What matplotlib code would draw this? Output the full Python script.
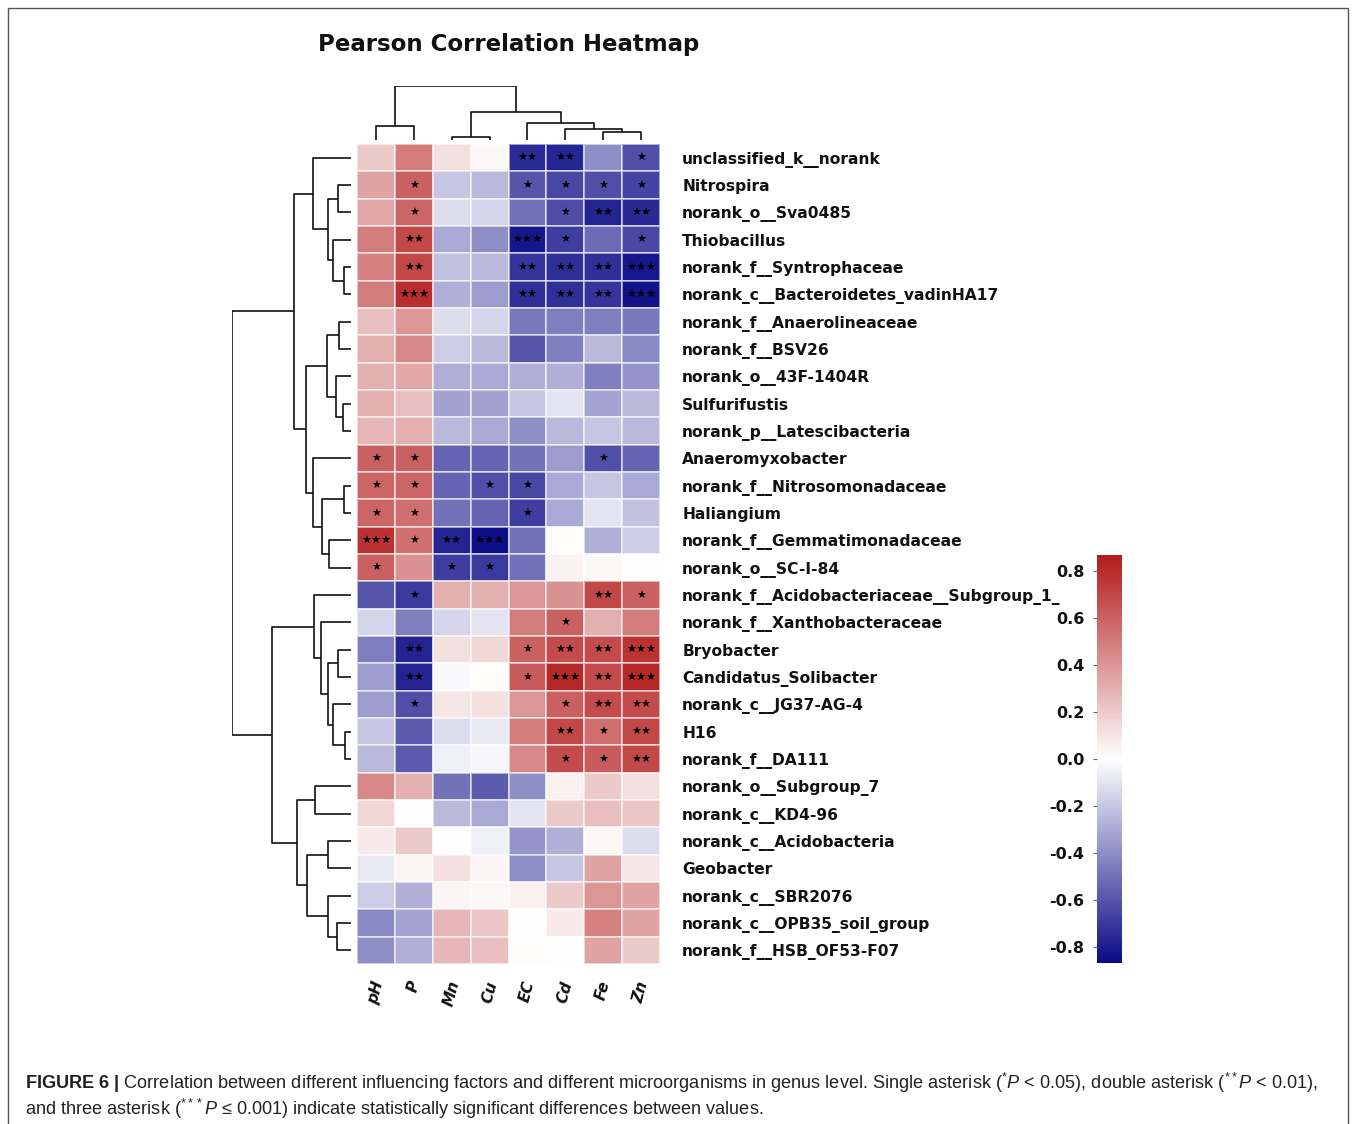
import numpy as np
import matplotlib
matplotlib.use("Agg")
import matplotlib.pyplot as plt
from matplotlib.colors import LinearSegmentedColormap
from matplotlib.patches import Rectangle
from matplotlib import font_manager

W, H, DPI = 1358, 1124, 100

factors = ["pH", "P", "Mn", "Cu", "EC", "Cd", "Fe", "Zn"]

taxa = [
    "unclassified_k__norank", "Nitrospira", "norank_o__Sva0485", "Thiobacillus",
    "norank_f__Syntrophaceae", "norank_c__Bacteroidetes_vadinHA17",
    "norank_f__Anaerolineaceae", "norank_f__BSV26", "norank_o__43F-1404R",
    "Sulfurifustis", "norank_p__Latescibacteria", "Anaeromyxobacter",
    "norank_f__Nitrosomonadaceae", "Haliangium", "norank_f__Gemmatimonadaceae",
    "norank_o__SC-I-84", "norank_f__Acidobacteriaceae__Subgroup_1_",
    "norank_f__Xanthobacteraceae", "Bryobacter", "Candidatus_Solibacter",
    "norank_c__JG37-AG-4", "H16", "norank_f__DA111", "norank_o__Subgroup_7",
    "norank_c__KD4-96", "norank_c__Acidobacteria", "Geobacter",
    "norank_c__SBR2076", "norank_c__OPB35_soil_group", "norank_f__HSB_OF53-F07",
]

# Pearson r, rows in display order, columns = factors
r_values = [
    [0.20, 0.50, 0.12, 0.03, -0.75, -0.77, -0.40, -0.62],
    [0.35, 0.60, -0.20, -0.25, -0.60, -0.65, -0.62, -0.66],
    [0.33, 0.58, -0.12, -0.15, -0.50, -0.63, -0.78, -0.76],
    [0.50, 0.70, -0.30, -0.40, -0.82, -0.68, -0.52, -0.64],
    [0.48, 0.70, -0.22, -0.25, -0.72, -0.74, -0.74, -0.82],
    [0.50, 0.80, -0.28, -0.35, -0.74, -0.74, -0.72, -0.84],
    [0.25, 0.40, -0.12, -0.15, -0.48, -0.45, -0.45, -0.48],
    [0.30, 0.45, -0.18, -0.25, -0.60, -0.45, -0.25, -0.42],
    [0.30, 0.33, -0.28, -0.30, -0.28, -0.28, -0.45, -0.38],
    [0.30, 0.25, -0.33, -0.33, -0.20, -0.10, -0.32, -0.25],
    [0.28, 0.30, -0.25, -0.30, -0.40, -0.25, -0.20, -0.25],
    [0.60, 0.60, -0.55, -0.55, -0.50, -0.35, -0.62, -0.55],
    [0.58, 0.58, -0.55, -0.62, -0.65, -0.30, -0.20, -0.30],
    [0.58, 0.55, -0.50, -0.55, -0.68, -0.30, -0.10, -0.22],
    [0.78, 0.55, -0.78, -0.85, -0.50, 0.02, -0.28, -0.18],
    [0.60, 0.42, -0.68, -0.70, -0.50, 0.05, 0.03, 0.00],
    [-0.60, -0.70, 0.30, 0.30, 0.40, 0.42, 0.70, 0.60],
    [-0.15, -0.45, -0.15, -0.10, 0.50, 0.60, 0.30, 0.50],
    [-0.45, -0.78, 0.12, 0.15, 0.60, 0.68, 0.68, 0.78],
    [-0.35, -0.78, -0.02, 0.02, 0.62, 0.82, 0.68, 0.82],
    [-0.35, -0.62, 0.10, 0.12, 0.40, 0.60, 0.68, 0.68],
    [-0.20, -0.58, -0.12, -0.08, 0.50, 0.70, 0.55, 0.70],
    [-0.25, -0.58, -0.06, -0.03, 0.45, 0.68, 0.62, 0.70],
    [0.45, 0.30, -0.50, -0.58, -0.40, 0.06, 0.20, 0.12],
    [0.15, 0.00, -0.25, -0.30, -0.10, 0.20, 0.25, 0.22],
    [0.08, 0.20, 0.00, -0.06, -0.38, -0.28, 0.03, -0.12],
    [-0.08, 0.04, 0.12, 0.04, -0.40, -0.20, 0.35, 0.10],
    [-0.18, -0.28, 0.04, 0.03, 0.06, 0.20, 0.40, 0.35],
    [-0.42, -0.32, 0.28, 0.22, 0.00, 0.08, 0.48, 0.35],
    [-0.40, -0.28, 0.28, 0.25, 0.02, 0.00, 0.35, 0.20],
]

# number of significance asterisks per cell
stars = [
    [0, 0, 0, 0, 2, 2, 0, 1],
    [0, 1, 0, 0, 1, 1, 1, 1],
    [0, 1, 0, 0, 0, 1, 2, 2],
    [0, 2, 0, 0, 3, 1, 0, 1],
    [0, 2, 0, 0, 2, 2, 2, 3],
    [0, 3, 0, 0, 2, 2, 2, 3],
    [0, 0, 0, 0, 0, 0, 0, 0],
    [0, 0, 0, 0, 0, 0, 0, 0],
    [0, 0, 0, 0, 0, 0, 0, 0],
    [0, 0, 0, 0, 0, 0, 0, 0],
    [0, 0, 0, 0, 0, 0, 0, 0],
    [1, 1, 0, 0, 0, 0, 1, 0],
    [1, 1, 0, 1, 1, 0, 0, 0],
    [1, 1, 0, 0, 1, 0, 0, 0],
    [3, 1, 2, 3, 0, 0, 0, 0],
    [1, 0, 1, 1, 0, 0, 0, 0],
    [0, 1, 0, 0, 0, 0, 2, 1],
    [0, 0, 0, 0, 0, 1, 0, 0],
    [0, 2, 0, 0, 1, 2, 2, 3],
    [0, 2, 0, 0, 1, 3, 2, 3],
    [0, 1, 0, 0, 0, 1, 2, 2],
    [0, 0, 0, 0, 0, 2, 1, 2],
    [0, 0, 0, 0, 0, 1, 1, 2],
    [0, 0, 0, 0, 0, 0, 0, 0],
    [0, 0, 0, 0, 0, 0, 0, 0],
    [0, 0, 0, 0, 0, 0, 0, 0],
    [0, 0, 0, 0, 0, 0, 0, 0],
    [0, 0, 0, 0, 0, 0, 0, 0],
    [0, 0, 0, 0, 0, 0, 0, 0],
    [0, 0, 0, 0, 0, 0, 0, 0],
]

# hierarchical clustering merges (child_a, child_b, height), scipy-style ids
row_links = [
    (1, 2, 13), (4, 5, 7), (3, 31, 18), (30, 32, 23), (0, 33, 38),
    (6, 7, 12), (9, 10, 8), (8, 36, 15), (35, 37, 24),
    (12, 13, 7), (14, 15, 22), (39, 40, 29), (11, 41, 38),
    (38, 42, 45), (34, 43, 57),
    (18, 19, 13), (21, 22, 6), (20, 46, 18), (45, 47, 23), (17, 48, 30),
    (16, 49, 37), (23, 24, 36), (25, 26, 23), (28, 29, 14), (27, 53, 23),
    (52, 54, 44), (51, 55, 54), (50, 56, 78), (44, 57, 118),
]
col_links = [
    (0, 1, 14), (2, 3, 3), (6, 7, 8), (5, 10, 11), (4, 11, 17),
    (9, 12, 28), (8, 13, 54),
]

cbar_ticks = [-0.8, -0.6, -0.4, -0.2, 0.0, 0.2, 0.4, 0.6, 0.8]

title = "Pearson Correlation Heatmap"
caption1 = (r"$\mathbf{FIGURE\ 6\ |}$ Correlation between different influencing factors and "
            r"different microorganisms in genus level. Single asterisk ($^{*}\mathit{P}$ < 0.05), "
            r"double asterisk ($^{**}\mathit{P}$ < 0.01),")
caption2 = (r"and three asterisk ($^{***}\mathit{P}$ ≤ 0.001) indicate statistically "
            r"significant differences between values.")

# ---------------------------------------------------------------------------
names = {f.name for f in font_manager.fontManager.ttflist}
cap_family = "Liberation Sans Narrow" if "Liberation Sans Narrow" in names else "Liberation Sans"
plt.rcParams["mathtext.fontset"] = "custom"
plt.rcParams["mathtext.rm"] = cap_family
plt.rcParams["mathtext.it"] = cap_family + ":italic"
plt.rcParams["mathtext.bf"] = cap_family + ":bold"
plt.rcParams["font.family"] = ["DejaVu Sans"]

fig = plt.figure(figsize=(W / DPI, H / DPI), dpi=DPI)


def px_axes(x0, y0, x1, y1):
    return fig.add_axes([x0 / W, 1 - y1 / H, (x1 - x0) / W, (y1 - y0) / H])


def dendro_segments(links, n):
    pos = {i: i + 0.5 for i in range(n)}
    hgt = {i: 0.0 for i in range(n)}
    segs = []
    for k, (a, b, h) in enumerate(links):
        pa, pb = pos[a], pos[b]
        segs.append(([pa, pa, pb, pb], [hgt[a], h, h, hgt[b]]))
        pos[n + k] = (pa + pb) / 2
        hgt[n + k] = h
    return segs


vals = np.array(r_values)
nr, nc = vals.shape

cmap = LinearSegmentedColormap.from_list("rwb", ["#0a0a86", "#ffffff", "#b31b1b"])
vlim = 0.87

# heatmap
hx0, hy0, hx1, hy1 = 357, 144, 660, 964
ax = px_axes(hx0, hy0, hx1, hy1)
mesh = ax.pcolormesh(np.arange(nc + 1), np.arange(nr + 1), vals, cmap=cmap,
                     vmin=-vlim, vmax=vlim, edgecolors=(1, 1, 1, 0.55), linewidth=1.2)
ax.set_xlim(0, nc)
ax.set_ylim(nr, 0)
for s in ax.spines.values():
    s.set_visible(False)
ax.yaxis.tick_right()
ax.set_yticks(np.arange(nr) + 0.5)
ax.set_yticklabels(taxa, fontsize=11.2, fontweight="bold", color="#111111")
ax.tick_params(axis="y", length=0, pad=16)
ax.set_xticks(np.arange(nc) + 0.5)
ax.set_xticklabels(factors, fontsize=11, fontweight="bold", style="italic",
                   rotation=75, ha="center", va="top", color="#111111")
ax.tick_params(axis="x", length=0, pad=11)

for i in range(nr):
    for j in range(nc):
        if stars[i][j]:
            ax.text(j + 0.5, i + 0.52, "★" * stars[i][j], ha="center", va="center",
                    fontsize=8, color="black")

# row dendrogram
rax = px_axes(232, hy0, 351, hy1)
for xs, ys in dendro_segments(row_links, nr):
    rax.plot(ys, xs, color="#111111", lw=1.2, solid_capstyle="butt")
rax.set_xlim(118, 0)
rax.set_ylim(nr, 0)
rax.axis("off")

# column dendrogram
cax_d = px_axes(hx0, 86, hx1, 140)
for xs, ys in dendro_segments(col_links, nc):
    cax_d.plot(xs, ys, color="#111111", lw=1.2, solid_capstyle="butt")
cax_d.set_xlim(0, nc)
cax_d.set_ylim(0, 54)
cax_d.axis("off")

# colorbar
cb_ax = px_axes(1097, 555, 1122, 963)
cb = fig.colorbar(mesh, cax=cb_ax)
cb.outline.set_visible(False)
cb_ax.yaxis.set_ticks_position("left")
cb.set_ticks(cbar_ticks)
cb.set_ticklabels([f"{t:.1f}" for t in cbar_ticks])
cb_ax.tick_params(axis="y", length=3, width=0.8, color="#666666", pad=6)
for lab in cb_ax.get_yticklabels():
    lab.set_fontsize(11.5)
    lab.set_fontweight("bold")
    lab.set_color("#111111")

# title
fig.text(509 / W, 1 - 45 / H, title, ha="center", va="center",
         fontsize=16.5, fontweight="bold", color="#111111")

# frame
fig.add_artist(Rectangle((8 / W, -0.05), (1348 - 8) / W, 1 - 8 / H + 0.05,
                         transform=fig.transFigure, fill=False,
                         edgecolor="#555555", lw=1.0))

# caption
t1 = fig.text(25 / W, 1 - 1083 / H, caption1, ha="left", va="center",
              fontsize=13, family=cap_family, color="#222222")
t2 = fig.text(25 / W, 1 - 1109 / H, caption2, ha="left", va="center",
              fontsize=13, family=cap_family, color="#222222")
fig.canvas.draw()
w1 = t1.get_window_extent().width
scale = (1315 - 25) / w1
t1.set_fontsize(13 * scale)
t2.set_fontsize(13 * scale)

fig.savefig("out.png", dpi=DPI)
